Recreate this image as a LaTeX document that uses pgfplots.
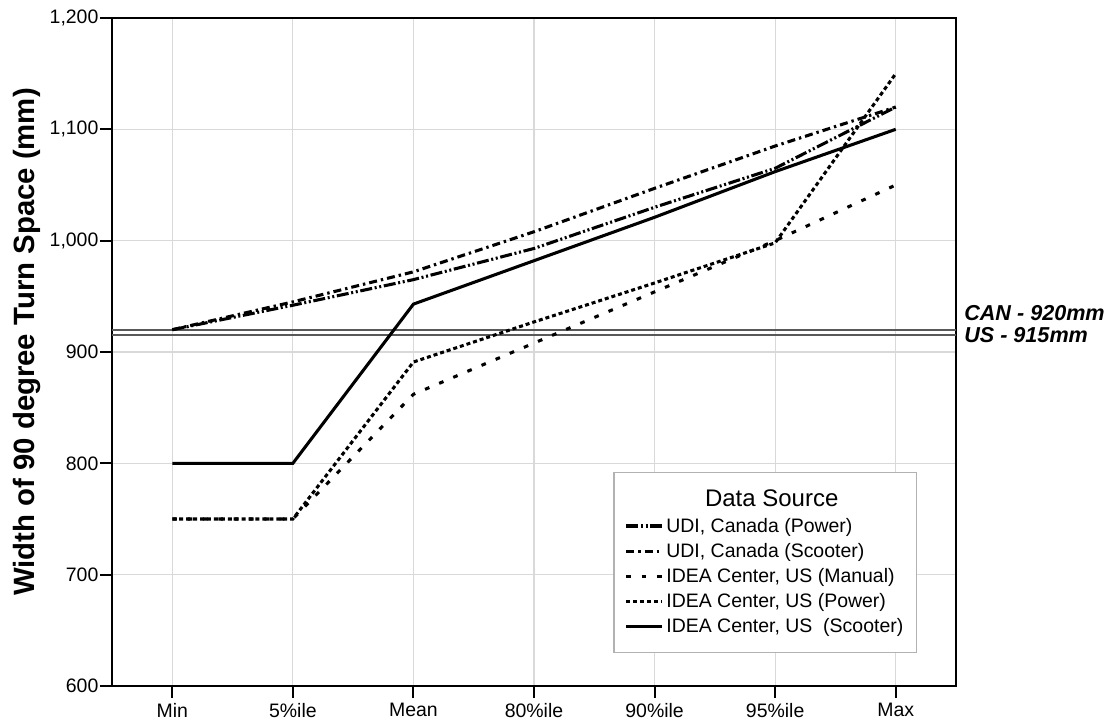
\documentclass[border=0pt]{standalone}
\usepackage{pgfplots}
\pgfplotsset{compat=1.18}
\usepackage{fontspec}
\setmainfont{Liberation Sans}
\begin{document}
\begin{tikzpicture}[x=1pt,y=1pt]
\useasboundingbox (-84,-26.25) rectangle (753.75,514.5);
\begin{axis}[
  at={(0,0)}, anchor=south west,
  scale only axis, width=633pt, height=501pt,
  xmin=-0.5, xmax=6.5, ymin=600, ymax=1200,
  clip=false,
  xtick={0,...,6},
  xticklabels={Min,5\%ile,Mean,80\%ile,90\%ile,95\%ile,Max},
  ytick={600,700,...,1200},
  /pgf/number format/.cd, 1000 sep={,}, assume math mode=true,
  /pgfplots/.cd,
  tick label style={font=\fontsize{14.6}{16}\selectfont, black},
  xticklabel style={inner sep=1pt, yshift=-3pt},
  yticklabel style={inner sep=1pt},
  tick align=outside,
  major tick length=9pt,
  tick style={line width=1.5pt, black},
  xtick pos=bottom, ytick pos=left,
  axis line style={line width=1.5pt},
  grid=major,
  major grid style={gray!30, line width=0.8pt},
  ylabel={\bfseries Width of 90 degree Turn Space (mm)},
  ylabel style={font=\fontsize{22}{24}\selectfont, at={(axis description cs:-0.1007,0.515)}, anchor=center},
  legend cell align=left,
  legend style={at={(axis description cs:0.954,0.049)}, anchor=south east,
    draw=gray!60, line width=0.8pt, fill=white,
    font=\fontsize{14.6}{16}\selectfont,
    inner xsep=8pt, inner ysep=12pt, row sep=3.8pt,
    nodes={inner xsep=2pt, inner ysep=1.5pt}},
  legend image code/.code={\draw[#1, line width=2.3pt] plot coordinates {(0pt,0pt) (27pt,0pt)};},
]
\addplot[gray!70!black, line width=1.2pt, forget plot] coordinates {(-0.5,920) (6.5,920)};
\addplot[gray!70!black, line width=1.2pt, forget plot] coordinates {(-0.5,915) (6.5,915)};

\addlegendimage{empty legend}
\addlegendentry{\makebox[158pt][c]{\fontsize{18}{20}\selectfont Data Source}}

\addplot[black, line width=2.3pt, dash pattern=on 9pt off 2pt on 1.5pt off 2pt on 1.5pt off 2pt] coordinates {
(0,920) (1,942) (2,965) (3,993) (4,1030) (5,1065) (6,1120)};
\addlegendentry{UDI, Canada (Power)}
\addplot[black, line width=2.3pt, dash pattern=on 6pt off 3pt on 1.8pt off 3pt] coordinates {
(0,920) (1,945) (2,972) (3,1008) (4,1047) (5,1085) (6,1120)};
\addlegendentry{UDI, Canada (Scooter)}
\addplot[black, line width=2.3pt, dash pattern=on 3.5pt off 8pt] coordinates {
(0,750) (1,750) (2,862) (3,908) (4,954) (5,1000) (6,1050)};
\addlegendentry{IDEA Center, US (Manual)}
\addplot[black, line width=2.3pt, dash pattern=on 3pt off 2.2pt] coordinates {
(0,750) (1,750) (2,891) (3,927) (4,962) (5,998) (6,1150)};
\addlegendentry{IDEA Center, US (Power)}
\addplot[black, line width=2.3pt] coordinates {
(0,800) (1,800) (2,943) (3,982) (4,1021) (5,1062) (6,1100)};
\addlegendentry{IDEA Center, US\ \ (Scooter)}

\node[anchor=west, inner sep=0pt, font=\fontsize{16.2}{18}\selectfont\bfseries\itshape] at (axis description cs:1.0095,0.559) {CAN - 920mm};
\node[anchor=west, inner sep=0pt, font=\fontsize{16.2}{18}\selectfont\bfseries\itshape] at (axis description cs:1.0095,0.526) {US - 915mm};
\end{axis}
\end{tikzpicture}
\end{document}
